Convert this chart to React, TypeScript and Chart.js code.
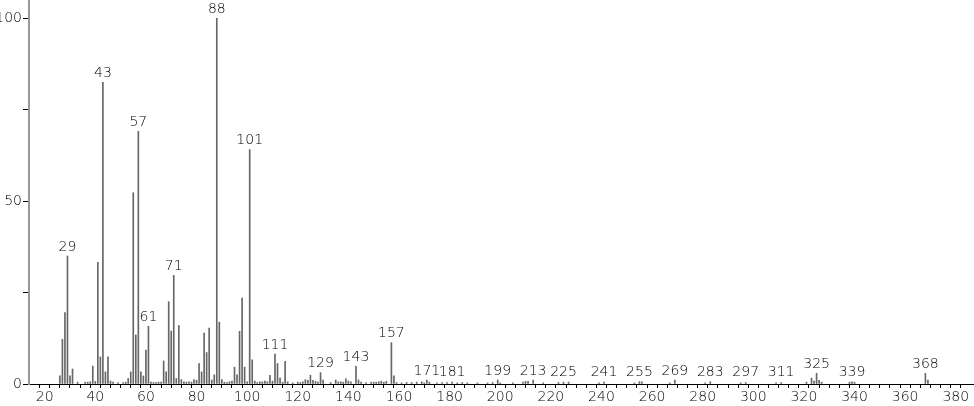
import React, { useEffect, useRef } from "react";
import { Chart, registerables } from "chart.js";

Chart.register(...registerables);

const mz: number[] = [
  26, 27, 28, 29, 30, 31, 33, 36, 37, 38, 39, 40, 41, 42, 43, 44, 45, 46, 47, 49,
  51, 52, 53, 54, 55, 56, 57, 58, 59, 60, 61, 62, 63, 64, 65, 66, 67, 68, 69, 70,
  71, 72, 73, 74, 75, 76, 77, 78, 79, 80, 81, 82, 83, 84, 85, 86, 87, 88, 89, 90,
  91, 92, 93, 94, 95, 96, 97, 98, 99, 100, 101, 102, 103, 104, 105, 106, 107, 108, 109, 110,
  111, 112, 113, 114, 115, 116, 118, 120, 121, 122, 123, 124, 125, 126, 127, 128, 129, 130, 133, 135,
  136, 137, 138, 139, 140, 141, 143, 144, 145, 147, 149, 150, 151, 152, 153, 154, 155, 157, 158, 159,
  161, 163, 165, 167, 169, 170, 171, 172, 175, 177, 179, 181, 183, 185, 187, 191, 195, 197, 199, 200,
  205, 209, 210, 211, 213, 217, 223, 225, 227, 239, 241, 253, 255, 256, 267, 269, 281, 283, 295, 297,
  309, 311, 321, 323, 324, 325, 326, 327, 338, 339, 340, 368, 369,
];

const intensity: number[] = [
  2.2, 12.2, 19.5, 35, 2.2, 4.1, 0.5, 0.5, 0.5, 0.6, 4.9, 0.7, 33.3, 7.4, 82.5, 3.3, 7.4, 0.8, 0.5, 0.4,
  0.4, 0.5, 1.5, 3.3, 52.3, 13.4, 69.1, 3.3, 2.2, 9.3, 15.8, 0.5, 0.4, 0.4, 0.5, 0.5, 6.3, 3.3, 22.5, 14.5,
  29.7, 1.5, 16, 1.2, 0.6, 0.5, 0.6, 0.5, 1.2, 1.0, 5.6, 3.3, 13.9, 8.6, 15.3, 1.1, 2.5, 100, 16.9, 1.2,
  0.5, 0.4, 0.6, 0.8, 4.6, 2.5, 14.4, 23.5, 4.6, 0.6, 64.1, 6.6, 0.8, 0.4, 0.6, 0.6, 0.8, 0.6, 2.4, 0.8,
  8.2, 5.6, 1.6, 0.5, 6.2, 0.6, 0.3, 0.5, 0.4, 0.6, 1.2, 1.0, 2.4, 1.0, 0.7, 0.5, 3.1, 1.1, 0.4, 1.1,
  0.6, 0.6, 0.5, 1.4, 0.8, 0.6, 4.8, 1.1, 0.5, 0.4, 0.5, 0.5, 0.5, 0.6, 0.8, 0.5, 0.7, 11.3, 2.2, 0.4,
  0.3, 0.4, 0.4, 0.5, 0.6, 0.3, 1.1, 0.5, 0.3, 0.4, 0.4, 0.5, 0.3, 0.4, 0.3, 0.3, 0.3, 0.4, 1.1, 0.3,
  0.3, 0.5, 0.7, 0.7, 1.1, 0.3, 0.4, 0.5, 0.5, 0.3, 0.5, 0.3, 0.6, 0.6, 0.3, 1.1, 0.3, 0.6, 0.3, 0.4,
  0.3, 0.4, 0.5, 1.6, 0.8, 2.9, 1.0, 0.5, 0.5, 0.6, 0.5, 2.9, 1.1,
];

const labeledPeaks: number[] = [
  29, 43, 57, 61, 71, 88, 101, 111, 129, 143, 157, 171, 181, 199, 213, 225, 241, 255, 269, 283, 297, 311,
  325, 339, 368,
];

const xMin = 13.8;
const xMax = 387.2;
const yMin = 0;
const yMax = 105;

const FONT = "'DejaVu Sans ExtraLight', 'DejaVu Sans Light', 'DejaVu Sans', sans-serif";

const peakLabelPlugin = {
  id: "peakLabels",
  afterDatasetsDraw(chart: any) {
    const { ctx, scales } = chart;
    const xs = scales.x;
    const ys = scales.y;
    ctx.save();
    ctx.font = `200 14px ${FONT}`;
    ctx.fillStyle = "#000";
    ctx.textAlign = "center";
    ctx.textBaseline = "bottom";
    labeledPeaks.forEach((m) => {
      const idx = mz.indexOf(m);
      const v = idx >= 0 ? intensity[idx] : 0;
      const px = xs.getPixelForValue(m);
      const py = Math.min(ys.getPixelForValue(v) - 2, ys.getPixelForValue(0) - 5);
      ctx.fillText(String(m), px, py);
    });
    ctx.restore();
  },
};

export default function App() {
  const ref = useRef<HTMLCanvasElement | null>(null);

  useEffect(() => {
    if (!ref.current) return;
    const chart = new Chart(ref.current, {
      type: "bar",
      data: {
        datasets: [
          {
            data: mz.map((m, i) => ({ x: m, y: intensity[i] })),
            backgroundColor: "#666",
            borderWidth: 0,
            barThickness: 1,
          } as any,
        ],
      },
      options: {
        animation: false,
        responsive: true,
        maintainAspectRatio: false,
        layout: { padding: 0 },
        plugins: { legend: { display: false }, tooltip: { enabled: false } },
        scales: {
          x: {
            type: "linear",
            min: xMin,
            max: xMax,
            offset: false,
            grid: { drawOnChartArea: false, drawTicks: true, tickLength: 4, color: "#000" },
            border: { color: "#000", width: 1 },
            ticks: {
              stepSize: 4,
              autoSkip: false,
              maxRotation: 0,
              padding: 1,
              color: "#000",
              font: { family: FONT, size: 14, weight: "200" },
              callback: (v: any) => (Number(v) % 20 === 0 ? String(v) : ""),
            },
            afterBuildTicks: (s: any) => {
              s.ticks = s.ticks.filter((t: any) => Math.abs(t.value % 4) < 1e-6);
            },
            afterFit: (s: any) => {
              s.height = 22;
              s.paddingLeft = 0;
              s.paddingRight = 0;
            },
          },
          y: {
            min: yMin,
            max: yMax,
            grid: { drawOnChartArea: false, drawTicks: true, tickLength: 6, color: "#000" },
            border: { color: "#999", width: 2 },
            ticks: {
              stepSize: 25,
              padding: 1,
              color: "#000",
              font: { family: FONT, size: 14, weight: "200" },
              callback: (v: any) => (Number(v) % 50 === 0 ? String(v) : ""),
            },
            afterBuildTicks: (s: any) => {
              s.ticks = s.ticks.filter((t: any) => Math.abs(t.value % 25) < 1e-6);
            },
            afterFit: (s: any) => {
              s.width = 29;
              s.paddingTop = 0;
              s.paddingBottom = 0;
            },
          },
        },
      },
      plugins: [peakLabelPlugin],
    });
    return () => chart.destroy();
  }, []);

  return (
    <div style={{ position: "absolute", left: 0, top: 0, width: 974, height: 406, background: "#fff" }}>
      <canvas ref={ref} />
    </div>
  );
}
